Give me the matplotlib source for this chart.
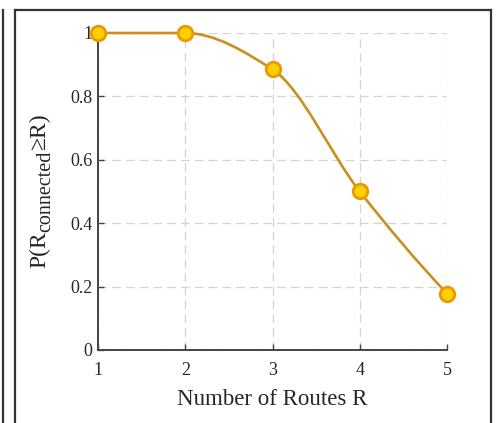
import matplotlib
matplotlib.use("Agg")
import matplotlib.pyplot as plt
import numpy as np
from matplotlib.path import Path
from matplotlib.patches import PathPatch
from matplotlib.lines import Line2D

plt.rcParams["font.family"] = ["Liberation Serif", "DejaVu Serif"]

routes = [1, 2, 3, 4, 5]
prob = [1.0, 1.0, 0.885, 0.5, 0.178]
x_ticks = [1, 2, 3, 4, 5]
y_ticks = [0, 0.2, 0.4, 0.6, 0.8, 1]
y_ticklabels = ["0", "0.2", "0.4", "0.6", "0.8", "1"]
# ylabel pieces: text, font size, baseline drop (px)
ylabel_parts = [("P(R", 17, 0), ("connected", 14.5, 5), ("≥R)", 17, 0)]

LINE = "#c98f1f"
FILL = "#ffd000"
EDGE = "#e89a00"
INK = "#262626"


def pchip_slopes(x, y):
    x = np.asarray(x, float)
    y = np.asarray(y, float)
    h = np.diff(x)
    delta = np.diff(y) / h
    d = np.zeros_like(y)
    for k in range(1, len(x) - 1):
        if delta[k - 1] * delta[k] <= 0:
            d[k] = 0.0
        else:
            w1 = 2 * h[k] + h[k - 1]
            w2 = h[k] + 2 * h[k - 1]
            d[k] = (w1 + w2) / (w1 / delta[k - 1] + w2 / delta[k])
    for k, (hh0, hh1, d0, d1) in ((0, (h[0], h[1], delta[0], delta[1])),
                                  (-1, (h[-1], h[-2], delta[-1], delta[-2]))):
        s = ((2 * hh0 + hh1) * d0 - hh0 * d1) / (hh0 + hh1)
        if np.sign(s) != np.sign(d0):
            s = 0.0
        elif np.sign(d0) != np.sign(d1) and abs(s) > abs(3 * d0):
            s = 3 * d0
        d[k] = s
    return d


W, H = 496, 423
fig = plt.figure(figsize=(W / 100, H / 100), dpi=100)
ax = fig.add_axes([0.1976, 0.1726, 0.7036, 0.7494])

# smooth curve as cubic Bezier segments (Hermite form of pchip)
d = pchip_slopes(routes, prob)
verts = [(routes[0], prob[0])]
codes = [Path.MOVETO]
for i in range(len(routes) - 1):
    h = routes[i + 1] - routes[i]
    verts += [(routes[i] + h / 3, prob[i] + d[i] * h / 3),
              (routes[i + 1] - h / 3, prob[i + 1] - d[i + 1] * h / 3),
              (routes[i + 1], prob[i + 1])]
    codes += [Path.CURVE4] * 3
ax.add_patch(PathPatch(Path(verts, codes), facecolor="none", edgecolor=LINE,
                       lw=1.9, zorder=3, clip_on=False))

ax.plot(routes, prob, linestyle="none", marker="o", markersize=10.5,
        markerfacecolor=FILL, markeredgecolor=EDGE, markeredgewidth=2,
        zorder=4, clip_on=False)

ax.set_xlim(1, 5)
ax.set_ylim(0, 1)
ax.set_xticks(x_ticks)
ax.set_yticks(y_ticks)
ax.set_yticklabels(y_ticklabels)
ax.grid(True, color="#d4d4d4", linestyle=(0, (7, 4)), lw=0.9)
ax.set_axisbelow(True)
for s in ("top", "right"):
    ax.spines[s].set_visible(False)
for s in ("left", "bottom"):
    ax.spines[s].set_color("#444444")
    ax.spines[s].set_linewidth(1.4)
ax.tick_params(direction="in", length=4, width=1, colors="#444444",
               labelcolor=INK, labelsize=13)
ax.tick_params(axis="x", pad=9)
ax.tick_params(axis="y", pad=4)

ax.set_xlabel("Number of Routes R", fontsize=16.5, color=INK, labelpad=7)

# y label built from pieces so the subscript can be a bit larger
renderer = fig.canvas.get_renderer()
widths = []
for txt, size, _ in ylabel_parts:
    t = fig.text(0, 0, txt, fontsize=size)
    widths.append(t.get_window_extent(renderer).width)
    t.remove()
base_x = 45
y0 = (H - 191) - sum(widths) / 2
for (txt, size, drop), w in zip(ylabel_parts, widths):
    fig.text(base_x + drop, y0, txt, fontsize=size, color=INK, rotation=90,
             rotation_mode="anchor", ha="left", va="baseline",
             transform=None)
    y0 += w

# scanned frame around the figure
def fl(x0, y0, x1, y1):
    fig.add_artist(Line2D([x0 / W, x1 / W], [1 - y0 / H, 1 - y1 / H],
                          color="#333333", lw=1.6, transform=fig.transFigure))

fl(15, 10, 491, 10)
fl(15, 10, 15, 423)
fl(491, 10, 491, 423)
fl(3, 10, 3, 423)

fig.savefig("out.png", dpi=100)
